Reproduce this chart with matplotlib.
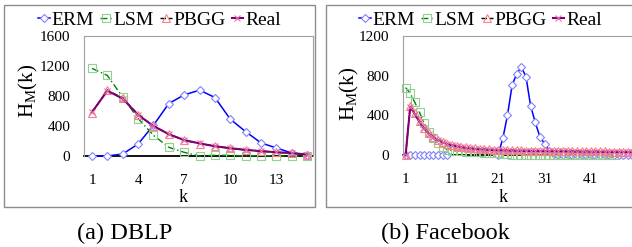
import matplotlib
matplotlib.use('Agg')
import matplotlib.pyplot as plt
import matplotlib.patches as mpatches
from matplotlib.lines import Line2D
import numpy as np

plt.rcParams['font.family'] = ['Liberation Serif', 'DejaVu Serif']
plt.rcParams['mathtext.fontset'] = 'custom'
plt.rcParams['mathtext.rm'] = 'Liberation Serif'

W, H = 632, 247
nan = np.nan

# DBLP data (k = 1..15)
dblp_k = list(range(1, 16))
dblp_erm = [0, 0, 27, 160, 410, 700, 815, 878, 780, 490, 325, 174, 107, 40, 20]
dblp_lsm = [1168, 1074, 784, 500, 276, 116, 49, 0, 10, 8, 3, 6, 0, 0, 0]
dblp_pbgg = [580, 878, 771, 553, 397, 294, 209, 165, 134, 102, 80, 67, 49, 40, 18]
dblp_real = [585, 870, 765, 548, 400, 290, 212, 168, 130, 104, 82, 64, 50, 38, 20]

# Facebook data (k = 1..50)
fb_k = list(range(1, 51))
fb_erm = [0, 0, 0, 0, 0, 0, 0, 0, 0, 0,
          nan, nan, nan, nan, nan, nan, nan, nan, nan, nan,
          5, 168, 400, 703, 820, 885, 790, 494, 330, 185,
          115, 45, 10, 0, 0, 0, 0, 0, 0, 0,
          0, 0, 0, 0, 0, 0, 0, 0, 0, 0]
fb_lsm = [680, 622, 530, 430, 320, 235, 168, 118, 84, 55,
          45, 40, 36, 33, 30, 28, 26, 24, 22, 20,
          18, 8, 6, 5, 4, 3, 3, 2, 2, 2,
          1, 1, 1, 1, 1, 1, 0, 0, 0, 0,
          0, 0, 0, 0, 0, 0]
fb_pbgg = [0, 495, 420, 340, 275, 222, 185, 155, 132, 115,
           102, 92, 84, 77, 71, 66, 62, 59, 56, 54,
           52, 50, 49, 48, 47, 46, 45, 45, 44, 43,
           43, 42, 41, 41, 40, 40, 39, 39, 38, 38,
           37, 37, 36, 36, 35, 35, 35, 34, 34, 33]
fb_real = [0, 488, 412, 332, 268, 216, 178, 150, 127, 110,
           98, 88, 80, 73, 67, 62, 58, 55, 52, 50,
           48, 46, 45, 44, 43, 42, 41, 41, 40, 39,
           39, 38, 37, 37, 36, 36, 35, 35, 34, 34,
           33, 33, 32, 32, 31, 31, 31, 30, 30, 29]

series_names = ['ERM', 'LSM', 'PBGG', 'Real']

styles = {
    'ERM': dict(color='#0000ff', lw=1.1, ls='-', marker='D', ms=4.2,
                mfc='white', mec='#8080ff', mew=0.8),
    'LSM': dict(color='#008000', lw=1.0, ls=(0, (5, 2, 1, 2)), marker='s', ms=5.8,
                mfc='none', mec='#90d090', mew=0.8),
    'PBGG': dict(color='black', lw=1.0, ls=(0, (4, 2)), marker='^', ms=6,
                 mfc='none', mec='#ff8080', mew=0.8),
    'Real': dict(color='#800070', lw=1.5, ls='-', marker='x', ms=5,
                 mec='#e070b0', mew=0.8),
}


def fig_box(x0, y0, x1, y1):
    return [x0 / W, 1 - y1 / H, (x1 - x0) / W, (y1 - y0) / H]


def style_axes(ax, ylim, yticks, xlim, xticks, right_spine=True):
    ax.set_xlim(*xlim)
    ax.set_ylim(*ylim)
    ax.set_yticks(yticks)
    ax.set_xticks(xticks)
    ax.tick_params(axis='y', length=0, pad=10, labelsize=11)
    ax.tick_params(axis='x', length=0, pad=13, labelsize=11)
    for s in ['left', 'top', 'right']:
        ax.spines[s].set_color('#a0a0a0')
        ax.spines[s].set_linewidth(0.8)
    ax.spines['right'].set_visible(right_spine)
    ax.spines['bottom'].set_color('black')
    ax.spines['bottom'].set_linewidth(1.3)
    ax.spines['bottom'].set_zorder(1)


fig = plt.figure(figsize=(W / 100, H / 100), dpi=100)

# panel frames
fig.patches.append(mpatches.Rectangle((4 / W, 1 - 207 / H), 311 / W, 202 / H,
                                      transform=fig.transFigure, fill=False,
                                      edgecolor='#8c8c8c', lw=1))
fig.patches.append(mpatches.Rectangle((326 / W, 1 - 207 / H), 320 / W, 202 / H,
                                      transform=fig.transFigure, fill=False,
                                      edgecolor='#8c8c8c', lw=1))

# (a) DBLP
ax1 = fig.add_axes(fig_box(84.3, 36, 313.3, 156))
for name, vals in zip(series_names, [dblp_erm, dblp_lsm, dblp_pbgg, dblp_real]):
    ax1.plot(dblp_k, vals, clip_on=False, zorder=3, **styles[name])
style_axes(ax1, (0, 1600), [0, 400, 800, 1200, 1600], (0.5, 15.4), [1, 4, 7, 10, 13])

# (b) Facebook
ax2 = fig.add_axes(fig_box(403.3, 36, 632, 155))
for name, vals in zip(series_names, [fb_erm, fb_lsm, fb_pbgg, fb_real]):
    ax2.plot(fb_k[:len(vals)], vals, clip_on=False, zorder=3, **styles[name])
style_axes(ax2, (0, 1200), [0, 400, 800, 1200], (0.5, 49.9), [1, 11, 21, 31, 41],
           right_spine=False)

# axis labels
ylab = r'H$_\mathregular{M}$(k)'
fig.text(28 / W, 1 - 91 / H, ylab, rotation=90, ha='center', va='center', fontsize=15)
fig.text(349 / W, 1 - 94 / H, ylab, rotation=90, ha='center', va='center', fontsize=15)
fig.text(183 / W, 1 - 197 / H, 'k', ha='center', va='center', fontsize=13)
fig.text(503 / W, 1 - 197 / H, 'k', ha='center', va='center', fontsize=13)

# legends
handles = [Line2D([], [], **styles[n]) for n in series_names]
for cx in (159.5, 480.5):
    fig.legend(handles, series_names, loc='center', bbox_to_anchor=(cx / W, 1 - 20 / H),
               ncol=4, frameon=False, fontsize=14, handlelength=0.6,
               handletextpad=0.1, columnspacing=0.3, borderpad=0, numpoints=1)

# captions
fig.text(125 / W, 1 - 233 / H, '(a) DBLP', ha='center', va='center', fontsize=17.5)
fig.text(445.5 / W, 1 - 233 / H, '(b) Facebook', ha='center', va='center', fontsize=17.5)

fig.savefig('out.png', dpi=100)
